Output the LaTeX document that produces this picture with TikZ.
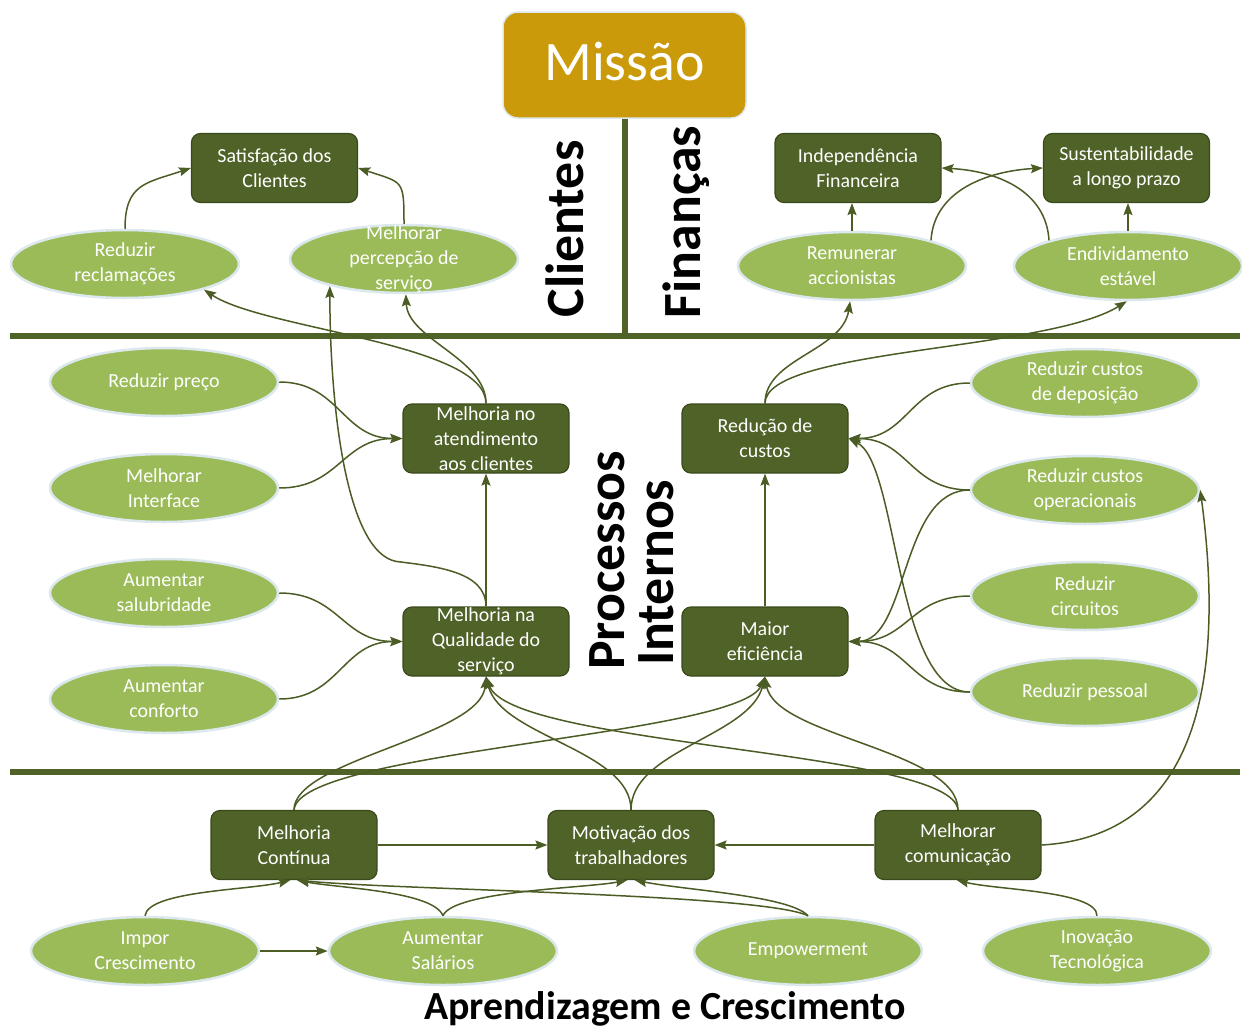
\documentclass[tikz,border=0pt]{standalone}
\usepackage{fontspec}
\setmainfont{Carlito}
\usetikzlibrary{arrows.meta,shapes.geometric}

\definecolor{bscdark}{HTML}{4F6228}
\definecolor{bscedge}{HTML}{3A4A1B}
\definecolor{bsclight}{HTML}{9BBB59}
\definecolor{bschalo}{HTML}{DCE8EE}
\definecolor{bscgold}{HTML}{CB9A0B}
\definecolor{bscline}{HTML}{4B5C25}

\begin{document}
\begin{tikzpicture}[x=1bp,y=-1bp,
  goal/.style={draw=bscedge, line width=1.2bp, fill=bscdark, rounded corners=9bp,
    minimum width=166bp, minimum height=69bp, inner sep=0pt},
  act/.style={ellipse, draw=bschalo, line width=2.5bp, fill=bsclight,
    minimum width=228bp, minimum height=68bp, inner sep=0pt},
  mission/.style={draw=bschalo, line width=1.5bp, fill=bscgold, rounded corners=15bp,
    minimum width=243bp, minimum height=106bp, inner sep=0pt},
  lbl/.style={text=white, align=center, font=\fontsize{20}{25}\selectfont, inner sep=0pt},
  arr/.style={draw=bscline, line width=1.5bp, -{Stealth[length=12bp,width=9bp,inset=2bp]}},
  sep/.style={draw=bscdark, line width=6bp},
  section/.style={font=\bfseries\fontsize{54}{54}\selectfont, text=black, inner sep=0pt}
]
\useasboundingbox (0,0) rectangle (1242,1028);
\fill[white] (0,0) rectangle (1242,1028);

% perspective dividers
\draw[sep] (10,336) -- (1240,336);
\draw[sep] (10,772) -- (1240,772);

% mission
\node[mission] (M) at (624.5,65) {};
\node[font=\fontsize{56}{56}\selectfont, text=white, anchor=base, inner sep=0pt] (Mtext) at (624.5,80) {Missão};
\coordinate (midbar) at (624.5,336);
\draw[sep] (M.south) -- (midbar);

% perspective titles
\node[section, rotate=90, anchor=base] (Lcli) at (583,229) {Clientes};
\node[section, rotate=90, anchor=base] (Lfin) at (700,222) {Finanças};
\node[section, rotate=90, anchor=base west] (Lproc) at (624,670) {Processos};
\node[section, rotate=90, anchor=base west] (Lint) at (673,666) {Internos};
\node[font=\bfseries\fontsize{40}{40}\selectfont, anchor=base, inner sep=0pt] (Lapr) at (665,1019) {Aprendizagem e Crescimento};

% strategic objectives
\node[goal, label={[lbl]center:{Satisfação dos\\Clientes}}] (Sat) at (274.5,168) {};
\node[goal, label={[lbl]center:{Independência\\Financeira}}] (Indep) at (858,168) {};
\node[goal, label={[lbl]center:{Sustentabilidade\\a longo prazo}}] (Sust) at (1126.5,168) {};
\node[goal, label={[lbl]center:{Melhoria no\\atendimento\\aos clientes}}] (Att) at (486,438.5) {};
\node[goal, label={[lbl]center:{Redução de\\custos}}] (Red) at (765,438.5) {};
\node[goal, label={[lbl]center:{Melhoria na\\Qualidade do\\serviço}}] (Qual) at (486,641.5) {};
\node[goal, label={[lbl]center:{Maior\\eficiência}}] (Eff) at (765,641.5) {};
\node[goal, label={[lbl]center:{Melhoria\\Contínua}}] (Cont) at (294,845) {};
\node[goal, label={[lbl]center:{Motivação dos\\trabalhadores}}] (Motiv) at (631,845) {};
\node[goal, label={[lbl]center:{Melhorar\\comunicação}}] (Comm) at (958,845) {};

% actions
\node[act, label={[lbl]center:{Reduzir\\reclamações}}] (RRec) at (125,264) {};
\node[act, label={[lbl]center:{Melhorar\\percepção de\\serviço}}] (MPerc) at (404,259) {};
\node[act, label={[lbl]center:{Remunerar\\accionistas}}] (Remun) at (852,266) {};
\node[act, label={[lbl]center:{Endividamento\\estável}}] (Endiv) at (1128,266) {};
\node[act, label={[lbl]center:{Reduzir preço}}] (RPreco) at (164,382) {};
\node[act, label={[lbl]center:{Melhorar\\Interface}}] (MInt) at (164,488) {};
\node[act, label={[lbl]center:{Aumentar\\salubridade}}] (ASalub) at (164,593) {};
\node[act, label={[lbl]center:{Aumentar\\conforto}}] (AConf) at (164,699) {};
\node[act, label={[lbl]center:{Reduzir custos\\de deposição}}] (RDep) at (1085,383) {};
\node[act, label={[lbl]center:{Reduzir custos\\operacionais}}] (ROper) at (1085,490) {};
\node[act, label={[lbl]center:{Reduzir\\circuitos}}] (RCirc) at (1085,596) {};
\node[act, label={[lbl]center:{Reduzir pessoal}}] (RPess) at (1085,692) {};
\node[act, label={[lbl]center:{Impor\\Crescimento}}] (Impor) at (145,951) {};
\node[act, label={[lbl]center:{Aumentar\\Salários}}] (ASal) at (443,951) {};
\node[act, label={[lbl]center:{Empowerment}}] (Empow) at (808,951) {};
\node[act, label={[lbl]center:{Inovação\\Tecnológica}}] (Inov) at (1097,951) {};

% customers
\draw[arr] (RRec.north) .. controls +(0,-45) and +(-45,15) .. (Sat.west);
\draw[arr] (MPerc.north) .. controls +(0,-45) and +(45,15) .. (Sat.east);
% finances
\draw[arr] (Remun.north) -- (Remun.north |- Indep.south);
\draw[arr] (Endiv.north) -- (Endiv.north |- Sust.south);
\draw[arr] (Remun.18) .. controls +(3,-50) and +(-55,3) .. (Sust.west);
\draw[arr] (Endiv.162) .. controls +(-3,-50) and +(55,3) .. (Indep.east);

% internal processes -> customers / finances
\draw[arr] (Att.north) .. controls +(0,-60) and +(60,40) .. (RRec.-18);
\draw[arr] (Att.north) .. controls +(0,-45) and +(2,45) .. (MPerc.-87);
\draw[arr] (Qual.north) .. controls +(0,-35) and +(40,5) .. ++(-90,-45)
  .. controls +(-50,-10) and +(0,120) .. (MPerc.200);
\draw[arr] (Red.north) .. controls +(0,-45) and +(-8,50) .. (Remun.-93);
\draw[arr] (Red.north) .. controls +(0,-55) and +(-80,50) .. (Endiv.-92);

% internal processes
\draw[arr] (Qual.north) -- (Att.south);
\draw[arr] (Eff.north) -- (Red.south);
\draw[arr] (RPreco.east) .. controls +(60,0) and +(-60,0) .. (Att.west);
\draw[arr] (MInt.east) .. controls +(60,0) and +(-60,0) .. (Att.west);
\draw[arr] (ASalub.east) .. controls +(60,0) and +(-60,0) .. (Qual.west);
\draw[arr] (AConf.east) .. controls +(60,0) and +(-60,0) .. (Qual.west);
\draw[arr] (RDep.west) .. controls +(-60,0) and +(60,0) .. (Red.east);
\draw[arr] (ROper.west) .. controls +(-60,0) and +(60,0) .. (Red.east);
\draw[arr] (ROper.west) .. controls +(-70,0) and +(60,0) .. (Eff.east);
\draw[arr] (RCirc.west) .. controls +(-60,0) and +(60,0) .. (Eff.east);
\draw[arr] (RPess.west) .. controls +(-60,0) and +(60,0) .. (Eff.east);
\draw[arr] (RPess.west) .. controls +(-75,0) and +(50,25) .. (Red.east);
\draw[arr] (Comm.east) .. controls +(175,-10) and +(20,150) .. (ROper.east);

% learning and growth -> internal processes
\draw[arr] (Cont.north) .. controls +(0,-50) and +(-5,60) .. (Qual.south);
\draw[arr] (Cont.north) .. controls +(5,-60) and +(-25,60) .. (Eff.south);
\draw[arr] (Motiv.north) .. controls +(0,-60) and +(15,60) .. (Qual.south);
\draw[arr] (Motiv.north) .. controls +(0,-60) and +(-15,60) .. (Eff.south);
\draw[arr] (Comm.north) .. controls +(-5,-60) and +(25,70) .. (Qual.south);
\draw[arr] (Comm.north) .. controls +(0,-60) and +(10,60) .. (Eff.south);

% learning and growth
\draw[arr] (Cont.east) -- (Motiv.west);
\draw[arr] (Comm.west) -- (Motiv.east);
\draw[arr] (Impor.east) -- (ASal.west);
\draw[arr] (Impor.north) .. controls +(3,-25) and +(-40,10) .. (Cont.-96);
\draw[arr] (ASal.north) .. controls +(-10,-25) and +(40,8) .. (Cont.-85);
\draw[arr] (ASal.north) .. controls +(10,-25) and +(-40,8) .. (Motiv.-96);
\draw[arr] (Empow.north) .. controls +(-18,-20) and +(50,10) .. (Motiv.-84);
\draw[arr] (Empow.north) .. controls +(-45,-22) and +(100,10) .. (Cont.-85);
\draw[arr] (Inov.north) .. controls +(0,-25) and +(40,10) .. (Comm.-92);
\end{tikzpicture}
\end{document}
